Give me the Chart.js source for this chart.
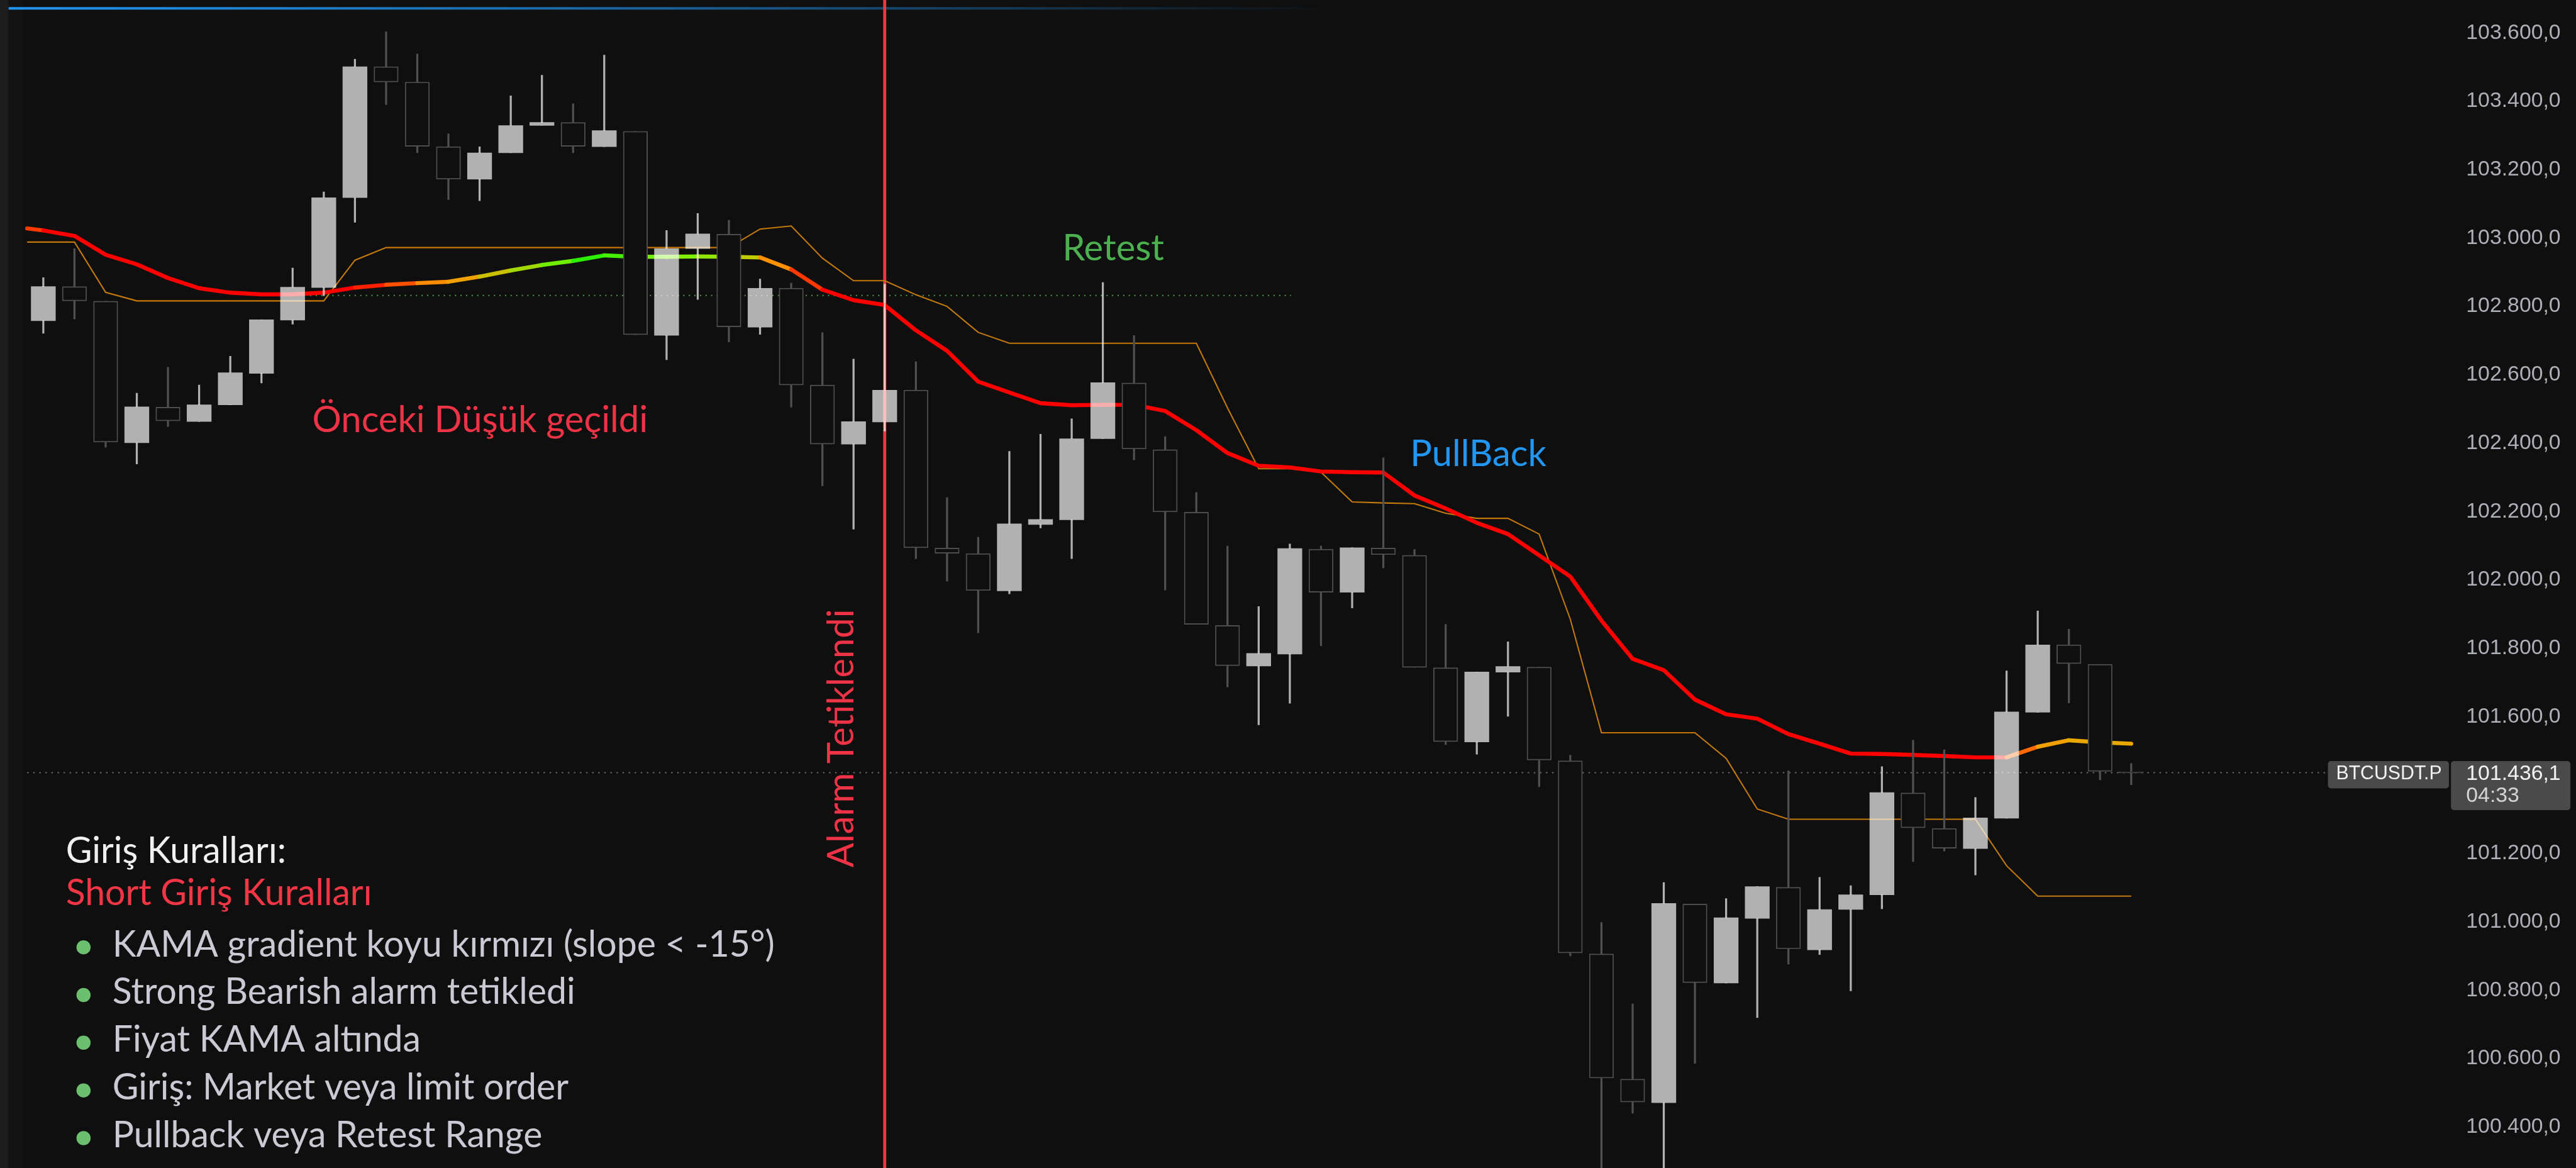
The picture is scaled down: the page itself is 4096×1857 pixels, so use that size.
<!DOCTYPE html>
<html>
<head>
<meta charset="utf-8">
<script src="https://cdn.jsdelivr.net/npm/chart.js@4.4.0/dist/chart.umd.min.js"></script>
<style>
  html, body { margin: 0; padding: 0; background: #0f0f0f; overflow: hidden; }
  #wrap { width: 4096px; height: 1857px; position: relative; }
</style>
</head>
<body>
<div id="wrap"><canvas id="chart"></canvas></div>
<script>
// reference was 5084 px wide, this page is 4096
const S = 0.805;
const px = v => v * S;

// BTCUSDT.P candles, left to right
const opens = [
  102758, 102858, 102815, 102401, 102505, 102463, 102512, 102604, 102760, 102855,
  103118, 103501, 103456, 103267, 103172, 103249, 103329, 103338, 103267, 103312,
  102715, 102969, 103011, 102739, 102853, 102570, 102397, 102462, 102555, 102093,
  102077, 101968, 102162, 102176, 102413, 102576, 102381, 102198, 101867, 101748,
  101783, 102090, 101964, 102093, 102072, 101743, 101526, 101730, 101745, 101471,
  100906, 100540, 100471, 101052, 100821, 101010, 101101, 100918, 101036, 101079,
  101377, 101273, 101214, 101303, 101613, 101810, 101753, 101439
];
const highs = [
  102884, 102969, 102815, 102546, 102622, 102570, 102654, 102761, 102912, 103135,
  103523, 103603, 103538, 103305, 103267, 103416, 103476, 103393, 103535, 103312,
  103022, 103072, 103052, 102880, 102868, 102723, 102646, 102865, 102638, 102241,
  102125, 102376, 102426, 102471, 102870, 102715, 102419, 102256, 102099, 101922,
  102105, 102099, 102094, 102357, 102089, 101870, 101731, 101819, 101745, 101487,
  100998, 100760, 101115, 101052, 101068, 101103, 101442, 101130, 101106, 101454,
  101531, 101503, 101364, 101734, 101909, 101856, 101753, 101463
];
const lows = [
  102721, 102763, 102388, 102339, 102448, 102463, 102512, 102576, 102748, 102831,
  103046, 103390, 103249, 103112, 103109, 103249, 103329, 103249, 103267, 102717,
  102644, 102820, 102696, 102718, 102505, 102275, 102148, 102435, 102062, 101996,
  101845, 101959, 102152, 102062, 102413, 102351, 101970, 101870, 101687, 101576,
  101639, 101807, 101918, 102035, 101744, 101518, 101490, 101601, 101395, 100900,
  100200, 100440, 100200, 100586, 100821, 100720, 100876, 100904, 100798, 101038,
  101176, 101207, 101137, 101303, 101613, 101640, 101415, 101401
];
const closes = [
  102858, 102816, 102403, 102506, 102465, 102512, 102606, 102761, 102856, 103118,
  103501, 103456, 103268, 103172, 103249, 103329, 103338, 103268, 103314, 102717,
  102969, 103012, 102740, 102853, 102570, 102397, 102463, 102555, 102094, 102078,
  101969, 102164, 102177, 102413, 102577, 102383, 102199, 101870, 101749, 101785,
  102092, 101964, 102094, 102074, 101744, 101527, 101731, 101747, 101473, 100909,
  100543, 100473, 101054, 100822, 101012, 101103, 100921, 101036, 101079, 101378,
  101275, 101215, 101304, 101614, 101810, 101755, 101440, 101436
];

// KAMA (thick gradient line), one value per candle
const kama = [
  103022, 103006, 102951, 102923, 102883, 102853, 102840, 102835, 102835, 102840,
  102855, 102863, 102868, 102872, 102887, 102905, 102921, 102933, 102949, 102945,
  102945, 102946, 102945, 102943, 102908, 102849, 102818, 102804, 102730, 102670,
  102580, 102548, 102517, 102511, 102512, 102512, 102494, 102438, 102371, 102334,
  102329, 102317, 102315, 102314, 102247, 102209, 102167, 102134, 102072, 102010,
  101881, 101769, 101736, 101650, 101607, 101594, 101549, 101521, 101492, 101491,
  101488, 101485, 101481, 101481, 101512, 101531, 101525, 101521
];
const kamaFirst = 103028;

// thin orange trailing line
const trail = [
  102988, 102988, 102841, 102816, 102816, 102816, 102816, 102816, 102816, 102816,
  102935, 102972, 102972, 102972, 102972, 102972, 102972, 102972, 102972, 102972,
  102972, 102972, 102972, 103026, 103035, 102941, 102875, 102875, 102834, 102800,
  102724, 102692, 102692, 102692, 102692, 102692, 102692, 102692, 102503, 102325,
  102325, 102315, 102228, 102225, 102223, 102195, 102180, 102180, 102134, 101885,
  101553, 101553, 101553, 101553, 101478, 101330, 101300, 101300, 101300, 101300,
  101300, 101300, 101300, 101164, 101075, 101075, 101075, 101075
];
const trailFirst = 102988;
const linesStart = -0.52;

const priceTicks = [
  100400, 100600, 100800, 101000, 101200, 101400, 101600, 101800, 102000,
  102200, 102400, 102600, 102800, 103000, 103200, 103400, 103600
];
const symbol = 'BTCUSDT.P';
const lastPrice = 101436.1;
const countdown = '04:33';

const alarmIndex = 27;
const prevLowLevel = 102832;
const prevLowFrom = 8.56;
const prevLowTo = 40.04;

const notes = [
  { text: 'Önceki Düşük geçildi', at: 8.63, price: 102432, color: '#ef3347' },
  { text: 'Retest', at: 32.7, price: 102935, color: '#4caf50' },
  { text: 'PullBack', at: 43.86, price: 102333, color: '#2196f3' }
];
const alarmText = 'Alarm Tetiklendi';
const alarmTextAt = 26.0;
const alarmTextFrom = 101159;

const rulesTitle = 'Giriş Kuralları:';
const rulesSubtitle = 'Short Giriş Kuralları';
const rulesItems = [
  'KAMA gradient koyu kırmızı (slope < -15°)',
  'Strong Bearish alarm tetikledi',
  'Fiyat KAMA altında',
  'Giriş: Market veya limit order',
  'Pullback veya Retest Range'
];

// KAMA colour per candle (gradient red -> orange -> green)
const kamaTone = {
  0: '#ff3a00', 11: '#ff2000', 12: '#ff5000', 13: '#ff8c00', 14: '#f0a000',
  15: '#c8c000', 16: '#a0d800', 17: '#70ee00', 18: '#2cf000', 19: '#44f000',
  20: '#70f000', 21: '#80f000', 22: '#92e600', 23: '#c0cc00', 24: '#ff9000',
  25: '#ff3800', 64: '#ff6a00', 65: '#f0a000', 66: '#e8a800', 67: '#e8a800'
};
const toneAt = i => kamaTone[i] || '#ff0000';

const BG = '#0f0f0f';
const UI_FONT = "Lato, 'Open Sans', sans-serif";
const AXIS_FONT = "'Liberation Sans', Arial, sans-serif";

function trNum(v, d) {
  const parts = v.toFixed(d).split('.');
  const head = parts[0].replace(/\B(?=(\d{3})+(?!\d))/g, '.');
  return parts[1] ? head + ',' + parts[1] : head;
}

const idx = opens.map((_, i) => i);
const bull = i => closes[i] >= opens[i];

const bodies = idx.map(i => ({ x: i, y: [opens[i], closes[i]] }));
const upperWicks = idx.map(i => ({ x: i, y: [Math.max(opens[i], closes[i]), highs[i]] }));
const lowerWicks = idx.map(i => ({ x: i, y: [lows[i], Math.min(opens[i], closes[i])] }));
const kamaPts = [{ x: linesStart, y: kamaFirst }].concat(kama.map((v, i) => ({ x: i, y: v })));
const trailPts = [{ x: linesStart, y: trailFirst }].concat(trail.map((v, i) => ({ x: i, y: v })));

const wickColor = ctx => bull(ctx.dataIndex) ? 'rgba(255,255,255,0.68)' : '#505050';

const decor = {
  id: 'decor',
  beforeDraw(chart) {
    const { ctx, width, height } = chart;
    ctx.save();
    ctx.fillStyle = BG;
    ctx.fillRect(0, 0, width, height);
    ctx.fillStyle = '#1d1d1d';
    ctx.fillRect(0, 0, px(17), height);
    ctx.fillStyle = '#131313';
    ctx.fillRect(px(17), 0, px(28), height);
    ctx.restore();
  },
  beforeDatasetsDraw(chart) {
    const { ctx, chartArea: a, scales: { x, y } } = chart;
    ctx.save();

    // loading bar on top
    const bx0 = px(17), bx1 = px(2640);
    const g = ctx.createLinearGradient(bx0, 0, bx1, 0);
    g.addColorStop(0, 'rgba(33,150,243,1)');
    g.addColorStop(0.5, 'rgba(33,150,243,0.6)');
    g.addColorStop(1, 'rgba(33,150,243,0)');
    ctx.fillStyle = g;
    ctx.fillRect(bx0, px(14), bx1 - bx0, px(5));

    // previous low level
    ctx.setLineDash([px(2.5), px(8.5)]);
    ctx.lineWidth = px(2.5);
    ctx.strokeStyle = 'rgba(76,175,80,0.9)';
    const ly = y.getPixelForValue(prevLowLevel);
    ctx.beginPath();
    ctx.moveTo(x.getPixelForValue(prevLowFrom), ly);
    ctx.lineTo(x.getPixelForValue(prevLowTo), ly);
    ctx.stroke();

    // last price line
    ctx.setLineDash([px(3), px(9)]);
    ctx.strokeStyle = '#6b6b6b';
    const py = y.getPixelForValue(lastPrice);
    ctx.beginPath();
    ctx.moveTo(x.getPixelForValue(linesStart), py);
    ctx.lineTo(a.right - px(243), py);
    ctx.stroke();

    // alarm vertical
    ctx.setLineDash([]);
    ctx.lineWidth = px(6);
    ctx.strokeStyle = '#f23645';
    const ax = x.getPixelForValue(alarmIndex);
    ctx.beginPath();
    ctx.moveTo(ax, a.top);
    ctx.lineTo(ax, a.bottom);
    ctx.stroke();
    ctx.restore();
  },
  afterDatasetsDraw(chart) {
    const { ctx, scales: { x, y } } = chart;
    ctx.save();
    ctx.textBaseline = 'alphabetic';
    ctx.textAlign = 'left';
    ctx.font = `${px(72)}px ${UI_FONT}`;
    notes.forEach(n => {
      ctx.fillStyle = n.color;
      ctx.fillText(n.text, x.getPixelForValue(n.at), y.getPixelForValue(n.price));
    });

    ctx.save();
    ctx.translate(x.getPixelForValue(alarmTextAt), y.getPixelForValue(alarmTextFrom));
    ctx.rotate(-Math.PI / 2);
    ctx.fillStyle = '#ef3347';
    ctx.fillText(alarmText, 0, 0);
    ctx.restore();

    // rules box, bottom left
    ctx.font = `${px(71)}px ${UI_FONT}`;
    ctx.fillStyle = '#f0f0f0';
    ctx.fillText(rulesTitle, px(130), px(1704));
    ctx.fillStyle = '#f23645';
    ctx.fillText(rulesSubtitle, px(130), px(1787));
    rulesItems.forEach((t, i) => {
      const base = px(1889 + i * 94.2);
      ctx.fillStyle = '#6cbf6e';
      ctx.beginPath();
      ctx.arc(px(165), base - px(18), px(14), 0, Math.PI * 2);
      ctx.fill();
      ctx.fillStyle = '#c9cad3';
      ctx.fillText(t, px(222), base);
    });
    ctx.restore();
  },
  afterDraw(chart) {
    const { ctx, chartArea: a, scales: { y } } = chart;
    const py = y.getPixelForValue(lastPrice);
    ctx.save();
    ctx.fillStyle = '#4a4a4a';
    ctx.beginPath();
    ctx.roundRect(a.right - px(243), py - px(23), px(239), px(54), px(6));
    ctx.fill();
    ctx.beginPath();
    ctx.roundRect(a.right, py - px(23), px(236), px(97), px(6));
    ctx.fill();

    ctx.textBaseline = 'middle';
    ctx.textAlign = 'left';
    ctx.font = `${px(38)}px ${AXIS_FONT}`;
    ctx.fillStyle = '#f2f2f2';
    ctx.fillText(symbol, a.right - px(227), py + px(3), px(209));
    ctx.font = `${px(42)}px ${AXIS_FONT}`;
    ctx.fillText(trNum(lastPrice, 1), a.right + px(30), py + px(3));
    ctx.fillStyle = '#d4d4d4';
    ctx.fillText(countdown, a.right + px(30), py + px(46));
    ctx.restore();
  }
};

new Chart(document.getElementById('chart'), {
  type: 'bar',
  data: {
    datasets: [
      {
        label: 'body',
        data: bodies,
        order: 0,
        grouped: false,
        barThickness: px(48),
        borderSkipped: false,
        backgroundColor: ctx => bull(ctx.dataIndex) ? 'rgba(255,255,255,0.68)' : BG,
        borderColor: ctx => bull(ctx.dataIndex) ? 'rgba(0,0,0,0)' : '#4d4d4d',
        borderWidth: ctx => bull(ctx.dataIndex) ? 0 : px(2.4)
      },
      {
        label: 'upper wick',
        data: upperWicks,
        order: 1,
        grouped: false,
        barThickness: px(3.2),
        borderWidth: 0,
        backgroundColor: wickColor
      },
      {
        label: 'lower wick',
        data: lowerWicks,
        order: 1,
        grouped: false,
        barThickness: px(3.2),
        borderWidth: 0,
        backgroundColor: wickColor
      },
      {
        type: 'line',
        label: 'KAMA',
        data: kamaPts,
        order: 2,
        borderWidth: px(8),
        borderColor: '#ff0000',
        pointRadius: 0,
        tension: 0,
        borderCapStyle: 'round',
        borderJoinStyle: 'round',
        segment: { borderColor: ctx => toneAt(Math.max(0, ctx.p1DataIndex - 1)) }
      },
      {
        type: 'line',
        label: 'trail',
        data: trailPts,
        order: 3,
        borderWidth: px(2.6),
        borderColor: '#c47a0a',
        pointRadius: 0,
        tension: 0
      }
    ]
  },
  options: {
    responsive: true,
    maintainAspectRatio: false,
    animation: false,
    layout: { padding: 0 },
    plugins: { legend: { display: false }, tooltip: { enabled: false } },
    scales: {
      x: { type: 'linear', min: -1.39, max: 77.26, offset: false, display: false },
      y: {
        type: 'linear',
        position: 'right',
        min: 100280,
        max: 103696,
        grid: { display: false, drawTicks: false },
        border: { display: false },
        afterBuildTicks: s => { s.ticks = priceTicks.map(v => ({ value: v })); },
        afterFit: s => {
          s.width = px(247);
          s.paddingTop = 0;
          s.paddingBottom = 0;
        },
        ticks: {
          autoSkip: false,
          color: '#aeb0b8',
          padding: px(30),
          crossAlign: 'near',
          font: { family: AXIS_FONT, size: px(42) },
          callback: v => trNum(v, 1)
        }
      }
    }
  },
  plugins: [decor]
});
</script>
</body>
</html>
